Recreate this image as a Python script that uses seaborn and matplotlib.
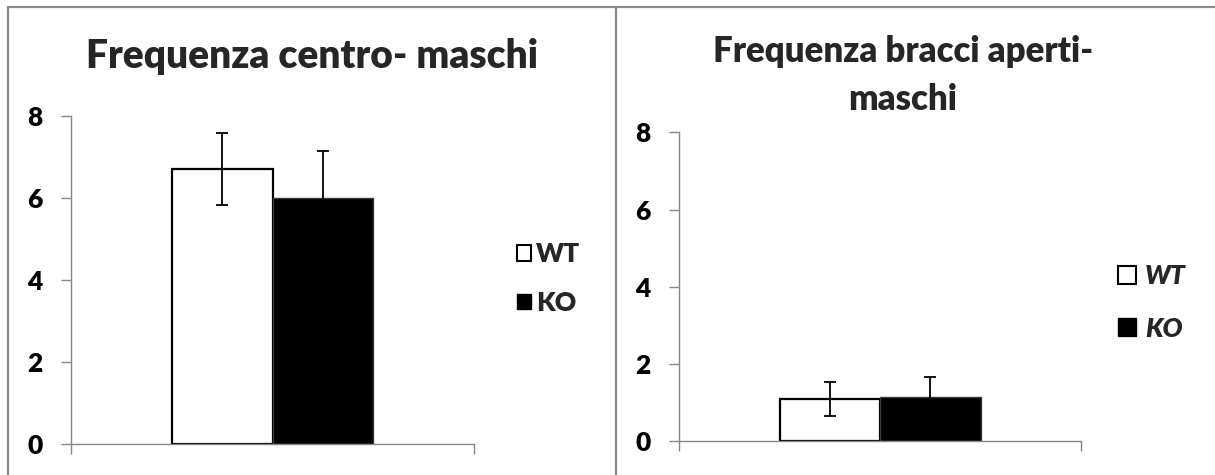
import numpy as np
import pandas as pd
import seaborn as sns
import matplotlib
matplotlib.use("Agg")
import matplotlib.pyplot as plt
from matplotlib.lines import Line2D
from matplotlib.patches import Patch

# Group labels and measured values (mean +/- error)
genotypes = ["WT", "KO"]
centro_mean = [6.7, 6.0]
centro_err = [0.88, 1.15]
bracci_mean = [1.1, 1.15]
bracci_err = [0.44, 0.52]
y_ticks = [0, 2, 4, 6, 8]
title_centro = "Frequenza centro- maschi"
title_bracci = "Frequenza bracci aperti-\nmaschi"

sns.set_theme(style="white")
plt.rcParams["font.family"] = ["Lato", "DejaVu Sans"]

W, H = 1215, 475
fig = plt.figure(figsize=(W / 100, H / 100), dpi=100)
fig.patch.set_facecolor("white")

GRID = "#868686"
WEIGHT = "heavy"


def axes_px(x0, x1, ytop, ybot):
    return fig.add_axes([x0 / W, (H - ybot) / H, (x1 - x0) / W, (ybot - ytop) / H])


def draw_panel(ax, means, errs, err_color):
    df = pd.DataFrame({"grp": ["", ""], "genotype": genotypes, "value": means})
    sns.barplot(data=df, x="grp", y="value", hue="genotype", hue_order=genotypes,
                palette={"WT": "white", "KO": "black"}, width=0.5,
                errorbar=None, legend=False, ax=ax, zorder=2)
    bars = ax.patches[:2]
    bars[0].set_edgecolor("black")
    bars[0].set_linewidth(1.6)
    bars[1].set_edgecolor("#3a3a3a")
    bars[1].set_linewidth(1.0)
    xs = [b.get_x() + b.get_width() / 2 for b in bars]
    hs = [b.get_height() for b in bars]
    ax.errorbar(xs, hs, yerr=errs, fmt="none", ecolor=err_color,
                elinewidth=1.3, capsize=4.3, capthick=1.3, zorder=5)
    ax.set_xlim(-0.5, 0.5)
    ax.set_ylim(0, 8)
    ax.set_yticks(y_ticks)
    ax.set_yticklabels([str(t) for t in y_ticks], fontsize=19, fontweight=WEIGHT)
    ax.set_xticks([-0.5, 0.5])
    ax.set_xticklabels([])
    ax.set_xlabel("")
    ax.set_ylabel("")
    ax.tick_params(axis="y", left=True, direction="out", length=7, width=1,
                   color=GRID, pad=13.7, labelcolor="black")
    ax.tick_params(axis="x", bottom=True, direction="out", length=7, width=1,
                   color=GRID)
    for side in ("top", "right"):
        ax.spines[side].set_visible(False)
    for side in ("left", "bottom"):
        ax.spines[side].set_color(GRID)
        ax.spines[side].set_linewidth(1)
    ax.set_facecolor("none")


ax1 = axes_px(71, 474, 116, 444)
draw_panel(ax1, centro_mean, centro_err, "black")
ax2 = axes_px(679, 1081, 132.3, 441.3)
draw_panel(ax2, bracci_mean, bracci_err, "black")

# Titles
fig.text(312 / W, (H - 68) / H, title_centro, ha="center", va="baseline",
         fontsize=28, fontweight=WEIGHT)
fig.text(903 / W, (H - 110) / H, title_bracci, ha="center", va="baseline",
         fontsize=25, fontweight=WEIGHT, linespacing=1.54, multialignment="center")

# Legends
handles = [Patch(facecolor="white", edgecolor="black", linewidth=1.5),
           Patch(facecolor="black", edgecolor="black", linewidth=1.0)]
fig.legend(handles, genotypes, loc="center left",
           bbox_to_anchor=(517 / W, (H - 278.5) / H), frameon=False,
           prop={"weight": WEIGHT, "size": 19}, handlelength=0.53,
           handleheight=0.53, handletextpad=0.2, labelspacing=0.92,
           borderpad=0, borderaxespad=0)
fig.legend(handles, genotypes, loc="center left",
           bbox_to_anchor=(1118 / W, (H - 302.5) / H), frameon=False,
           prop={"weight": WEIGHT, "style": "italic", "size": 19},
           handlelength=0.68, handleheight=0.68, handletextpad=0.35,
           labelspacing=1.07, borderpad=0, borderaxespad=0)

# Outer chart frames
FRAME = "#8a8a8a"
fig.add_artist(Line2D([8 / W, 8 / W], [0, (H - 7) / H], transform=fig.transFigure,
                      color=FRAME, lw=1.6))
fig.add_artist(Line2D([8 / W, 1], [(H - 7) / H, (H - 7) / H], transform=fig.transFigure,
                      color=FRAME, lw=1.6))
fig.add_artist(Line2D([616 / W, 616 / W], [0, (H - 7) / H], transform=fig.transFigure,
                      color=FRAME, lw=1.6))

fig.savefig("out.png", dpi=100, facecolor="white")
